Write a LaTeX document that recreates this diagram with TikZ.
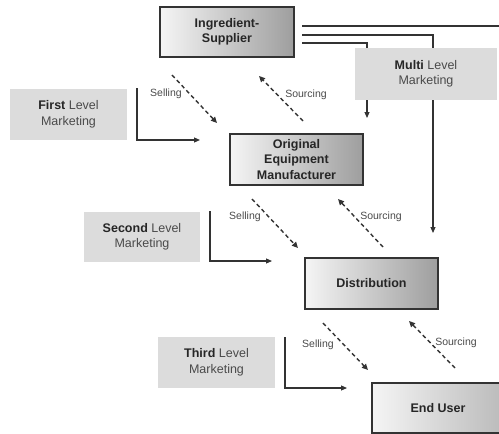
\documentclass[tikz,border=0pt]{standalone}
\usepackage{fontspec}
\setmainfont{Liberation Sans}
\usetikzlibrary{arrows.meta}
\definecolor{linec}{HTML}{333333}
\definecolor{mktfill}{HTML}{DCDCDC}
\definecolor{txtc}{HTML}{4A4A4A}
\tikzset{
  gradbox/.style={draw=linec, line width=1.6pt, left color=white!96!black, right color=black!38, align=center, inner sep=0pt, font=\fontsize{12.5}{15.5}\selectfont\bfseries, text=black!85},
  mktbox/.style={fill=mktfill, draw=none, align=center, inner sep=0pt, font=\fontsize{12.5}{15.5}\selectfont, text=txtc},
  conn/.style={draw=linec, line width=1.1pt},
  arr/.style={conn, -{Triangle[length=6pt,width=5pt]}},
  dasharr/.style={draw=linec, line width=1.4pt, dash pattern=on 4pt off 3pt, -{Triangle[length=6pt,width=5.5pt]}},
  lbl/.style={font=\fontsize{10.5}{12}\selectfont, text=txtc, inner sep=0pt}
}
\begin{document}
\begin{tikzpicture}[x=1pt,y=-1pt]
\useasboundingbox (0,0) rectangle (499,434);
\clip (0,0) rectangle (499,434);
% main boxes
\node[gradbox, minimum width=134pt, minimum height=50pt] (ing) at (227,32) {Ingredient-\\Supplier};
\node[gradbox, minimum width=133pt, minimum height=51pt] (oem) at (296.5,159.5) {Original\\Equipment\\Manufacturer};
\node[gradbox, minimum width=133pt, minimum height=51pt] (dist) at (371.5,283.5) {Distribution};
\node[gradbox, minimum width=150pt, minimum height=50pt, right color=black!30] (end) at (447,408) {\hspace*{-18pt}End User};
% marketing boxes
\node[mktbox, minimum width=142pt, minimum height=52pt] (mlm) at (426,74) {\textbf{\color{black!85}Multi} Level\\Marketing};
\node[mktbox, minimum width=117pt, minimum height=51pt] (first) at (68.5,114.5) {\textbf{\color{black!85}First} Level\\Marketing};
\node[mktbox, minimum width=116pt, minimum height=50pt] (second) at (142,237) {\textbf{\color{black!85}Second} Level\\Marketing};
\node[mktbox, minimum width=117pt, minimum height=51pt] (third) at (216.5,362.5) {\textbf{\color{black!85}Third} Level\\Marketing};
% lines from supplier to multi level
\draw[conn] (302,26) -- (499,26);
\draw[conn] (302,35) -| (mlm.north -| 433,0);
\draw[conn] (302,43) -| (mlm.north -| 367,0);
\draw[arr] (mlm.south -| 367,0) -- (367,118);
\draw[arr] (mlm.south -| 433,0) -- (433,233);
% L connectors
\coordinate (f1) at (137,88); \coordinate (f2) at (200,140);
\draw[arr] (f1) |- (f2);
\coordinate (s1) at (210,211); \coordinate (s2) at (272,261);
\draw[arr] (s1) |- (s2);
\coordinate (t1) at (285,337); \coordinate (t2) at (347,388);
\draw[arr] (t1) |- (t2);
% dashed selling / sourcing
\coordinate (a1) at (172,75); \coordinate (a2) at (217,123);
\draw[dasharr] (a1) -- (a2);
\coordinate (b1) at (303,121); \coordinate (b2) at (259,76);
\draw[dasharr] (b1) -- (b2);
\node[lbl] (sell1) at (166,94) {Selling};
\node[lbl] (src1) at (306,95) {Sourcing};
\coordinate (c1) at (252,199); \coordinate (c2) at (298,248);
\draw[dasharr] (c1) -- (c2);
\coordinate (d1) at (383,247); \coordinate (d2) at (338,199);
\draw[dasharr] (d1) -- (d2);
\node[lbl] (sell2) at (245,217) {Selling};
\node[lbl] (src2) at (381,217) {Sourcing};
\coordinate (e1) at (323,323); \coordinate (e2) at (368,370);
\draw[dasharr] (e1) -- (e2);
\coordinate (g1) at (455,368); \coordinate (g2) at (409,321);
\draw[dasharr] (g1) -- (g2);
\node[lbl] (sell3) at (318,345) {Selling};
\node[lbl] (src3) at (456,343) {Sourcing};
\end{tikzpicture}
\end{document}
